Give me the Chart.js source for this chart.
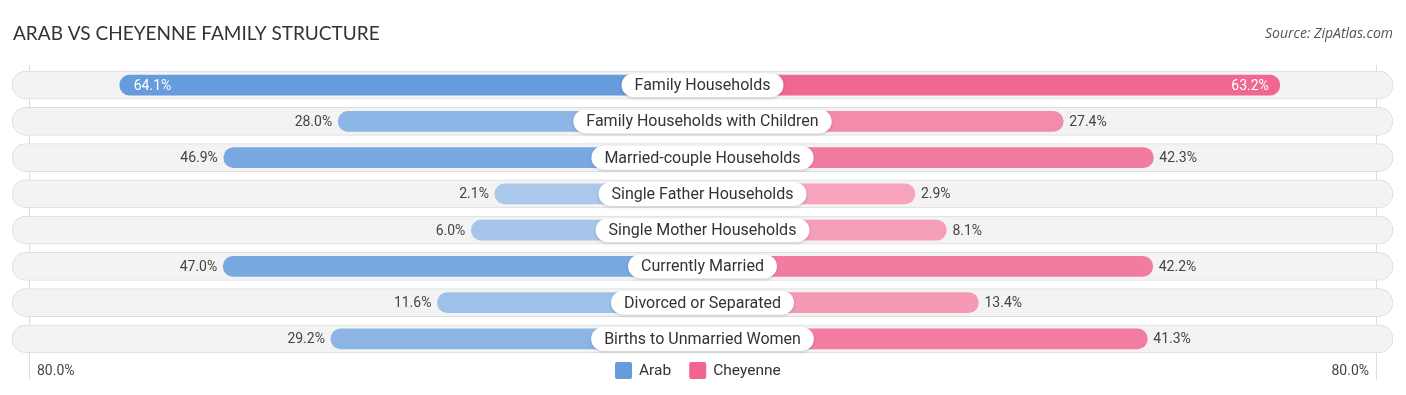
<!DOCTYPE html>
<html>
<head>
<meta charset="utf-8">
<script src="https://cdn.jsdelivr.net/npm/chart.js@4.4.1/dist/chart.umd.min.js"></script>
<style>
  html, body { margin: 0; background: #fff; }
  #wrap { width: 1406px; height: 395px; position: relative; }
</style>
</head>
<body>
<div id="wrap"><canvas id="familyChart"></canvas></div>
<script>
// data
const categories = [
  "Family Households",
  "Family Households with Children",
  "Married-couple Households",
  "Single Father Households",
  "Single Mother Households",
  "Currently Married",
  "Divorced or Separated",
  "Births to Unmarried Women",
];
const arab = [64.1, 28.0, 46.9, 2.1, 6.0, 47.0, 11.6, 29.2];
const cheyenne = [63.2, 27.4, 42.3, 2.9, 8.1, 42.2, 13.4, 41.3];
const seriesNames = ["Arab", "Cheyenne"];
const axisLabel = "80.0%";

// layout constants (axis units)
const OFFSET = 32.2; // room left under the centre label
const HALF = 114.1;
const GRID = 111.3;

function mix(a, b, t) {
  const c = a.map((v, i) => Math.round(v + (b[i] - v) * t));
  return "rgb(" + c.join(",") + ")";
}
const blueLight = [171, 201, 236], blueDark = [102, 156, 220];
const pinkLight = [246, 166, 189], pinkDark = [240, 102, 144];
const shade = (lo, hi) => (v) => mix(lo, hi, Math.min(v / 64, 1));
const blueOf = shade(blueLight, blueDark);
const pinkOf = shade(pinkLight, pinkDark);

const font = "Roboto, 'Open Sans', sans-serif";

const labelPlugin = {
  id: "labels",
  beforeDatasetsDraw(chart) {
    const { ctx, scales: { x } } = chart;
    ctx.save();
    ctx.strokeStyle = "#dcdcdc";
    ctx.lineWidth = 1;
    [-GRID, GRID].forEach((g) => {
      const px = Math.round(x.getPixelForValue(g)) + 0.5;
      ctx.beginPath();
      ctx.moveTo(px, 65);
      ctx.lineTo(px, 380);
      ctx.stroke();
    });
    ctx.restore();
  },
  afterDatasetsDraw(chart) {
    const { ctx, scales: { x, y } } = chart;
    const cx = x.getPixelForValue(0);
    ctx.save();
    categories.forEach((cat, i) => {
      const py = y.getPixelForValue(i);
      // centre label
      ctx.font = "16px " + font;
      const w = ctx.measureText(cat).width + 26;
      const h = 24;
      ctx.shadowColor = "rgba(0,0,0,0.18)";
      ctx.shadowBlur = 3;
      ctx.shadowOffsetY = 1;
      ctx.fillStyle = "#fff";
      ctx.beginPath();
      ctx.roundRect(cx - w / 2, py - h / 2, w, h, h / 2);
      ctx.fill();
      ctx.shadowColor = "transparent";
      ctx.fillStyle = "#333";
      ctx.textAlign = "center";
      ctx.textBaseline = "middle";
      ctx.fillText(cat, cx, py + 1);

      // value labels
      ctx.font = "14px " + font;
      const a = arab[i], c = cheyenne[i];
      const ax = x.getPixelForValue(-(OFFSET + a));
      const chx = x.getPixelForValue(OFFSET + c);
      if (a > 55) {
        ctx.fillStyle = "#fff";
        ctx.textAlign = "left";
        ctx.fillText(a.toFixed(1) + "%", ax + 14, py + 1);
      } else {
        ctx.fillStyle = "#444";
        ctx.textAlign = "right";
        ctx.fillText(a.toFixed(1) + "%", ax - 6, py + 1);
      }
      if (c > 55) {
        ctx.fillStyle = "#fff";
        ctx.textAlign = "right";
        ctx.fillText(c.toFixed(1) + "%", chx - 11, py + 1);
      } else {
        ctx.fillStyle = "#444";
        ctx.textAlign = "left";
        ctx.fillText(c.toFixed(1) + "%", chx + 6, py + 1);
      }
    });
    ctx.restore();
  },
  afterDraw(chart) {
    const { ctx } = chart;
    ctx.save();
    // title and source
    ctx.textBaseline = "middle";
    ctx.fillStyle = "#333";
    ctx.font = "19px Lato, 'Open Sans', sans-serif";
    ctx.textAlign = "left";
    ctx.fillText("ARAB VS CHEYENNE FAMILY STRUCTURE", 13, 34);
    ctx.fillStyle = "#555";
    ctx.font = "italic 14px 'Open Sans', sans-serif";
    ctx.textAlign = "right";
    ctx.fillText("Source: ZipAtlas.com", 1393, 34);

    // axis end labels
    ctx.fillStyle = "#444";
    ctx.font = "14px " + font;
    ctx.textAlign = "left";
    ctx.fillText(axisLabel, 37, 371);
    ctx.textAlign = "right";
    ctx.fillText(axisLabel, 1369, 371);

    // legend
    ctx.font = "15.5px " + font;
    ctx.textAlign = "left";
    const colors = [blueDark, pinkDark].map((c) => "rgb(" + c.join(",") + ")");
    let lx = 615;
    seriesNames.forEach((name, i) => {
      ctx.fillStyle = colors[i];
      ctx.beginPath();
      ctx.roundRect(lx, 362, 17, 17, 2);
      ctx.fill();
      ctx.fillStyle = "#333";
      ctx.fillText(name, lx + 24, 371);
      lx += 24 + ctx.measureText(name).width + 18;
    });
    ctx.restore();
  },
};

new Chart(document.getElementById("familyChart"), {
  type: "bar",
  data: {
    labels: categories,
    datasets: [
      {
        label: seriesNames[0],
        data: arab.map((v) => [-(OFFSET + v), 0]),
        backgroundColor: arab.map(blueOf),
        barThickness: 20,
        borderRadius: 10,
        borderSkipped: false,
        order: 1,
      },
      {
        label: seriesNames[1],
        data: cheyenne.map((v) => [0, OFFSET + v]),
        backgroundColor: cheyenne.map(pinkOf),
        barThickness: 20,
        borderRadius: 10,
        borderSkipped: false,
        order: 1,
      },
      {
        label: "row",
        data: categories.map(() => [-HALF, HALF]),
        backgroundColor: "#f3f3f3",
        borderColor: "#dddddd",
        borderWidth: 1,
        barThickness: 28,
        borderRadius: 14,
        borderSkipped: false,
        order: 2,
      },
    ],
  },
  options: {
    indexAxis: "y",
    responsive: true,
    maintainAspectRatio: false,
    animation: false,
    layout: { padding: { left: 12, right: 13, top: 67, bottom: 38 } },
    scales: {
      x: { display: false, min: -HALF, max: HALF, stacked: false },
      y: { display: false, stacked: true },
    },
    plugins: { legend: { display: false }, tooltip: { enabled: false } },
  },
  plugins: [labelPlugin],
});
</script>
</body>
</html>
